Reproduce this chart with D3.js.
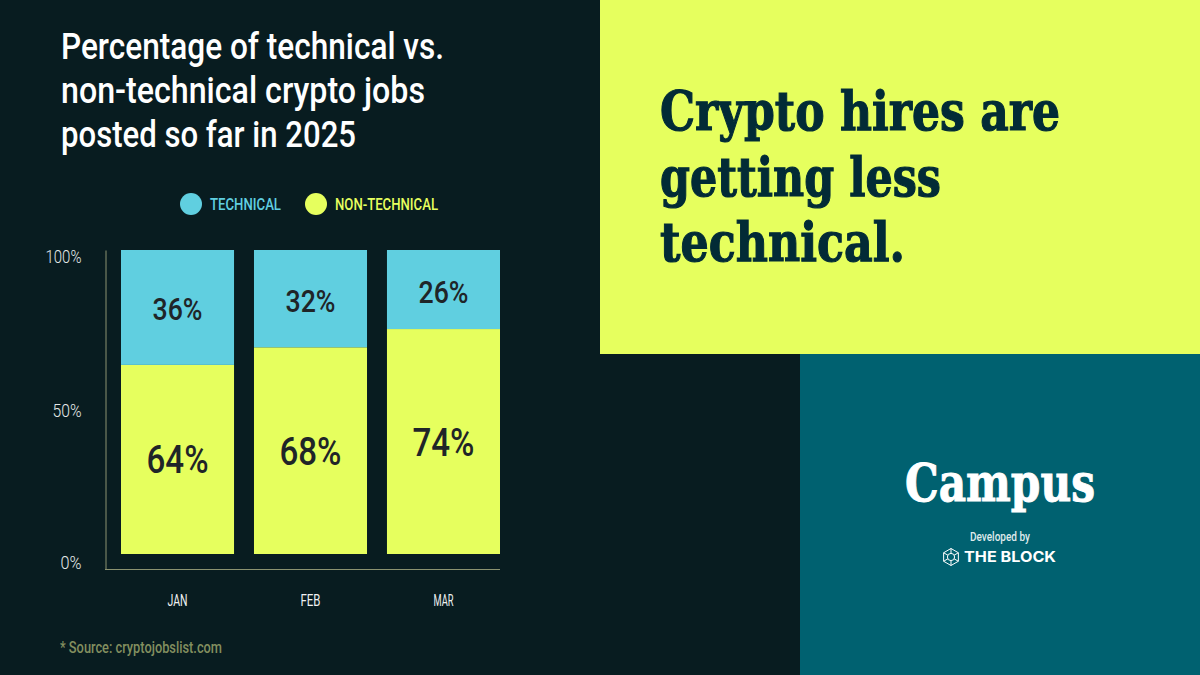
<!DOCTYPE html>
<html>
<head>
<meta charset="utf-8">
<script src="https://cdn.jsdelivr.net/npm/d3@7"></script>
<style>
  html, body { margin: 0; padding: 0; background: #081c20; }
  svg { display: block; }
</style>
</head>
<body>
<script>
// Data
const months = ["JAN", "FEB", "MAR"];
const technicalShare = [37.8, 32, 26]; // drawn height of the top segment
const nonTechnicalShare = [62.2, 68, 74]; // drawn height of the bottom segment
const technicalLabels = ["36%", "32%", "26%"];
const nonTechnicalLabels = ["64%", "68%", "74%"];
const yTicks = [0, 50, 100];
const yTickLabels = ["0%", "50%", "100%"];
const titleLines = ["Percentage of technical vs.", "non-technical crypto jobs", "posted so far in 2025"];
const headlineLines = ["Crypto hires are", "getting less", "technical."];

const width = 1200;
const height = 675;
const cond = "Roboto, sans-serif";
const serif = "'DejaVu Serif', serif";

const colors = {
  bg: "#081c20",
  lime: "#e6ff5e",
  cyan: "#60cfe0",
  teal: "#006170",
  ink: "#1f2528",
  headline: "#022b36",
  axis: "#8b9270",
  source: "#838f5f",
};

const svg = d3
  .create("svg")
  .attr("width", width)
  .attr("height", height)
  .attr("viewBox", [0, 0, width, height]);

svg.append("rect").attr("width", width).attr("height", height).attr("fill", colors.bg);
svg.append("rect").attr("x", 600).attr("y", 0).attr("width", 600).attr("height", 354).attr("fill", colors.lime);
svg.append("rect").attr("x", 800).attr("y", 354).attr("width", 400).attr("height", 321).attr("fill", colors.teal);

// Text helper - squeezes the installed fonts to the measured run width
const addText = (str, x, y, w, opts = {}) =>
  svg
    .append("text")
    .attr("x", x)
    .attr("y", y)
    .attr("textLength", w)
    .attr("lengthAdjust", "spacingAndGlyphs")
    .attr("font-family", opts.family || cond)
    .attr("font-size", opts.size || 16)
    .attr("font-weight", opts.weight || 400)
    .attr("fill", opts.fill || "#fff")
    .attr("stroke", opts.thicken ? opts.fill || "#fff" : "none")
    .attr("stroke-width", opts.thicken || 0)
    .text(str);

// Title
const titleWidths = [383, 364, 295];
titleLines.forEach((t, i) => addText(t, 61, 59 + i * 44, titleWidths[i], { size: 37, weight: 500 }));

// Headline
const headlineWidths = [400, 281, 245];
headlineLines.forEach((t, i) =>
  addText(t, 660, 130 + i * 65.5, headlineWidths[i], {
    family: serif,
    size: 54,
    weight: 700,
    fill: colors.headline,
    thicken: 1.2,
  })
);

// Legend
svg.append("circle").attr("cx", 191).attr("cy", 204).attr("r", 11).attr("fill", colors.cyan);
addText("TECHNICAL", 210, 210, 71, { size: 17, weight: 500, fill: colors.cyan });
svg.append("circle").attr("cx", 316).attr("cy", 204).attr("r", 11).attr("fill", colors.lime);
addText("NON-TECHNICAL", 335, 210, 103, { size: 17, weight: 500, fill: colors.lime });

// Scales
const x = d3.scaleBand().domain(months).range([121, 500]).paddingInner(0.15).paddingOuter(0);
const y = d3.scaleLinear().domain([0, 100]).range([554, 250]);
const yAxisScale = d3.scaleLinear().domain([0, 100]).range([569.5, 250]);

// Bars
const rows = months.map((m, i) => ({
  month: m,
  nonTech: nonTechnicalShare[i],
  tech: technicalShare[i],
  techLabel: technicalLabels[i],
  nonTechLabel: nonTechnicalLabels[i],
}));

svg
  .append("g")
  .selectAll("rect")
  .data(rows)
  .join("rect")
  .attr("x", (d) => x(d.month))
  .attr("y", (d) => y(d.nonTech))
  .attr("width", x.bandwidth())
  .attr("height", (d) => y(0) - y(d.nonTech))
  .attr("fill", colors.lime);

svg
  .append("g")
  .selectAll("rect")
  .data(rows)
  .join("rect")
  .attr("x", (d) => x(d.month))
  .attr("y", (d) => y(100))
  .attr("width", x.bandwidth())
  .attr("height", (d) => y(100 - d.tech) - y(100))
  .attr("fill", colors.cyan);

// Bar labels
const labelFont = (sel, size, w) =>
  sel
    .attr("text-anchor", "middle")
    .attr("font-family", cond)
    .attr("font-size", size)
    .attr("font-weight", 500)
    .attr("fill", colors.ink)
    .attr("textLength", w)
    .attr("lengthAdjust", "spacingAndGlyphs");

svg
  .append("g")
  .selectAll("text")
  .data(rows)
  .join("text")
  .attr("x", (d) => x(d.month) + x.bandwidth() / 2)
  .attr("y", (d) => (y(100) + y(d.nonTech)) / 2 + 13)
  .text((d) => d.techLabel)
  .call(labelFont, 32, 50);

svg
  .append("g")
  .selectAll("text")
  .data(rows)
  .join("text")
  .attr("x", (d) => x(d.month) + x.bandwidth() / 2)
  .attr("y", (d) => (y(0) + y(d.nonTech)) / 2 + 14)
  .text((d) => d.nonTechLabel)
  .call(labelFont, 38, 62);

// Y axis
const yAxis = d3
  .axisLeft(yAxisScale)
  .tickValues(yTicks)
  .tickFormat((d, i) => yTickLabels[i])
  .tickSize(0)
  .tickPadding(24);

const yG = svg.append("g").attr("transform", "translate(105.5,0)").call(yAxis);
yG.select(".domain").attr("stroke", colors.axis).attr("stroke-width", 1);
yG.selectAll("text")
  .attr("font-family", cond)
  .attr("font-size", 18)
  .attr("font-weight", 300)
  .attr("fill", "#e4e8e8")
  .attr("dy", (d) => (d === 100 ? "0.72em" : d === 0 ? "-0.05em" : "0.35em"))
  .attr("textLength", (d) => (d === 100 ? 36 : d === 0 ? 21 : 29))
  .attr("lengthAdjust", "spacingAndGlyphs");

// X axis baseline plus month labels
svg
  .append("line")
  .attr("x1", 105)
  .attr("x2", x.range()[1])
  .attr("y1", yAxisScale(0))
  .attr("y2", yAxisScale(0))
  .attr("stroke", colors.axis);

const xAxis = d3.axisBottom(x).tickSize(0).tickPadding(25);
const xG = svg.append("g").attr("transform", `translate(0,${yAxisScale(0)})`).call(xAxis);
xG.select(".domain").remove();
xG.selectAll("text")
  .attr("font-family", cond)
  .attr("font-size", 16)
  .attr("fill", "#f0f2f2")
  .attr("textLength", 20)
  .attr("lengthAdjust", "spacingAndGlyphs");

// Source
addText("* Source: cryptojobslist.com", 60, 653, 162, { size: 16, weight: 500, fill: colors.source });

// Campus block
addText("Campus", 905, 501, 190, { family: serif, size: 52, weight: 700, thicken: 1 });
addText("Developed by", 970, 541, 60, { size: 12, weight: 500, fill: "#dfeaec" });
addText("THE BLOCK", 964, 562, 92, { family: "Inter, sans-serif", size: 15, weight: 700 });

// The Block logo mark
const cx = 951;
const cy = 557;
const hexagon = d3.range(6).map((i) => {
  const a = (Math.PI / 3) * i + Math.PI / 6;
  return [8.5 * Math.cos(a), 8.5 * Math.sin(a)];
});
const logo = svg
  .append("g")
  .attr("transform", `translate(${cx},${cy})`)
  .attr("fill", "none")
  .attr("stroke", "#fff")
  .attr("stroke-width", 1);
logo.append("path").attr("d", d3.line()(hexagon) + "Z");
logo.append("circle").attr("r", 3.6);
hexagon.forEach(([px, py]) => {
  logo.append("line").attr("x1", px).attr("y1", py).attr("x2", px * 0.42).attr("y2", py * 0.42);
});

document.body.appendChild(svg.node());
</script>
</body>
</html>
